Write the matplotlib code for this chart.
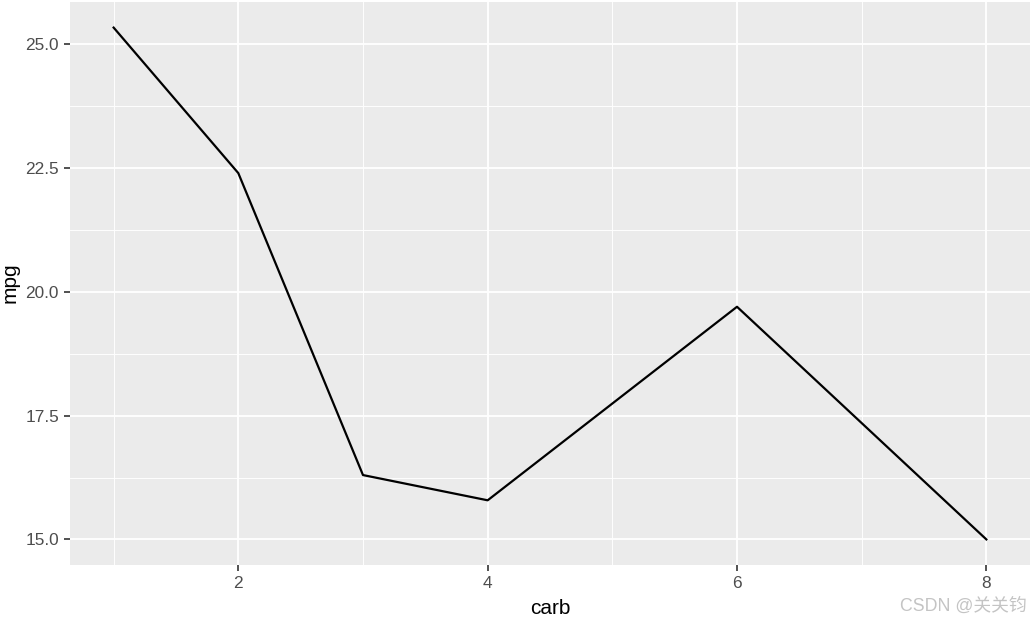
import matplotlib
matplotlib.use("Agg")
import matplotlib.pyplot as plt
from matplotlib.ticker import FixedLocator

carb = [1, 2, 3, 4, 6, 8]
mpg = [25.34, 22.40, 16.30, 15.79, 19.70, 15.00]
x_ticks = [2, 4, 6, 8]
x_minor = [1, 3, 5, 7]
y_ticks = [15.0, 17.5, 20.0, 22.5, 25.0]
y_labels = ["15.0", "17.5", "20.0", "22.5", "25.0"]

plt.rcParams['font.family'] = ['Liberation Sans', 'Noto Sans CJK SC', 'DejaVu Sans']

W, H = 1032, 624
fig = plt.figure(figsize=(W/100, H/100), dpi=100)
ax = fig.add_axes([70/W, (H-565)/H, (1030-70)/W, (565-2)/H])
ax.set_facecolor('#EBEBEB')

xr = max(carb) - min(carb)
ax.set_xlim(min(carb) - 0.05*xr, max(carb) + 0.05*xr)
yr = max(mpg) - min(mpg)
ax.set_ylim(min(mpg) - 0.05*yr, max(mpg) + 0.05*yr)

ax.xaxis.set_major_locator(FixedLocator(x_ticks))
ax.xaxis.set_minor_locator(FixedLocator(x_minor))
ax.set_yticks(y_ticks)
ax.set_yticklabels(y_labels)
ymin = [(a+b)/2 for a, b in zip(y_ticks[:-1], y_ticks[1:])]
ax.yaxis.set_minor_locator(FixedLocator(ymin))

ax.grid(which='major', color='white', linewidth=1.3)
ax.grid(which='minor', color='white', linewidth=0.65)
ax.set_axisbelow(True)
for s in ax.spines.values():
    s.set_visible(False)

ax.tick_params(which='major', length=4.5, width=1.2, color='#333333',
               labelsize=12.4, labelcolor='#4D4D4D', pad=3.5)
ax.tick_params(which='minor', length=0)

ax.plot(carb, mpg, color='black', linewidth=1.6)

ax.set_xlabel('carb', fontsize=15, color='black')
ax.set_ylabel('mpg', fontsize=15, color='black')
ax.xaxis.set_label_coords((550-70)/960, (565-609)/563)
ax.xaxis.label.set_va('center')
ax.yaxis.set_label_coords((10-70)/960, (565-283)/563)
ax.yaxis.label.set_va('center')

fig.text(1027/W, (H-606)/H, 'CSDN @关关钧', ha='right', va='center',
         fontsize=12.8, color='#C4C4C4')

fig.savefig('out.png', dpi=100)
